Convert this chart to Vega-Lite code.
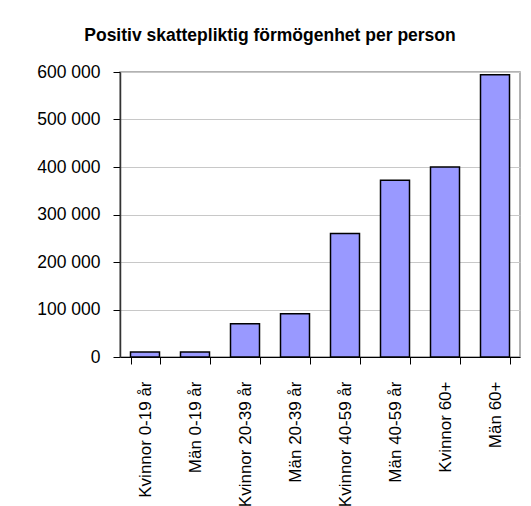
{
  "$schema": "https://vega.github.io/schema/vega-lite/v6.json",
  "width": 400,
  "height": 285,
  "autosize": {"type": "none"},
  "padding": {"left": 120, "top": 72, "right": 11, "bottom": 149},
  "background": "white",
  "title": {
    "text": "Positiv skattepliktig förmögenhet per person",
    "anchor": "middle",
    "dx": -50,
    "offset": 5,
    "baseline": "alphabetic",
    "font": "Liberation Sans",
    "fontSize": 17.5,
    "fontWeight": "bold",
    "color": "black"
  },
  "data": {
    "values": [
      {"grupp": "Kvinnor 0-19 år", "varde": 10500},
      {"grupp": "Män 0-19 år", "varde": 10500},
      {"grupp": "Kvinnor 20-39 år", "varde": 70000},
      {"grupp": "Män 20-39 år", "varde": 91000},
      {"grupp": "Kvinnor 40-59 år", "varde": 260000},
      {"grupp": "Män 40-59 år", "varde": 372000},
      {"grupp": "Kvinnor 60+", "varde": 400000},
      {"grupp": "Män 60+", "varde": 594000}
    ]
  },
  "mark": {"type": "bar", "fill": "#9999FF", "stroke": "black", "strokeWidth": 1.5},
  "encoding": {
    "x": {
      "field": "grupp",
      "type": "nominal",
      "sort": null,
      "scale": {"paddingInner": 0.42, "paddingOuter": 0.21},
      "axis": {
        "title": null,
        "labelAngle": -90,
        "labelAlign": "right",
        "labelBaseline": "middle",
        "labelPadding": 17,
        "labelFont": "Liberation Sans",
        "labelFontSize": 17,
        "labelColor": "black",
        "tickBand": "extent",
        "tickSize": 7,
        "tickColor": "black",
        "domainColor": "black",
        "domainWidth": 1.2,
        "grid": false
      }
    },
    "y": {
      "field": "varde",
      "type": "quantitative",
      "scale": {"domain": [0, 600000]},
      "axis": {
        "title": null,
        "values": [0, 100000, 200000, 300000, 400000, 500000, 600000],
        "labelExpr": "replace(format(datum.value, ','), ',', ' ')",
        "labelPadding": 13,
        "labelFont": "Liberation Sans",
        "labelFontSize": 17.5,
        "labelColor": "black",
        "tickSize": 7,
        "tickColor": "black",
        "domainColor": "#333333",
        "domainWidth": 1.5,
        "grid": true,
        "gridColor": "#C8C8C8",
        "gridWidth": 1
      }
    }
  },
  "config": {
    "view": {"stroke": "#999999", "strokeWidth": 1.5}
  }
}
